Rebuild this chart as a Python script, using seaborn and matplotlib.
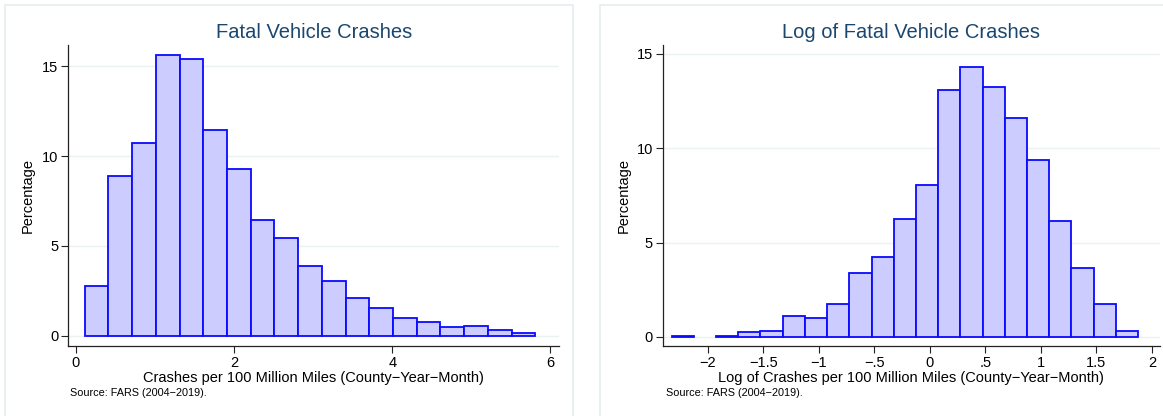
import numpy as np
import pandas as pd
import seaborn as sns
import matplotlib.pyplot as plt
from matplotlib.patches import Rectangle

# Percentage of county-year-months in each bin (raw rate)
rate_bin_start = 0.11
rate_bin_width = 0.30
rate_pct = [2.76, 8.88, 10.72, 15.64, 15.39, 11.42, 9.27, 6.43, 5.42, 3.87,
            3.04, 2.10, 1.53, 1.00, 0.77, 0.48, 0.55, 0.31, 0.15]

# Percentage in each bin (log of rate)
log_bin_start = -2.325
log_bin_width = 0.20
log_pct = [0.03, 0.00, 0.07, 0.26, 0.30, 1.09, 0.99, 1.73, 3.39, 4.22, 6.25,
           8.06, 13.08, 14.33, 13.27, 11.58, 9.37, 6.14, 3.64, 1.75, 0.30]

rate_xticks = [0, 2, 4, 6]
rate_xticklabels = ["0", "2", "4", "6"]
log_xticks = [-2, -1.5, -1, -0.5, 0, 0.5, 1, 1.5, 2]
log_xticklabels = ["\u22122", "\u22121.5", "\u22121", "\u2212.5", "0", ".5", "1", "1.5", "2"]
yticks = [0, 5, 10, 15]

titles = ["Fatal Vehicle Crashes", "Log of Fatal Vehicle Crashes"]
xlabels = ["Crashes per 100 Million Miles (County\u2212Year\u2212Month)",
           "Log of Crashes per 100 Million Miles (County\u2212Year\u2212Month)"]
ylabel = "Percentage"
source = "Source: FARS (2004\u22122019)."

sns.set_theme(style="white")
plt.rcParams["font.family"] = ["Liberation Sans", "DejaVu Sans"]

W, H = 1163, 416
fig = plt.figure(figsize=(W / 100, H / 100), dpi=100)
fig.patch.set_facecolor("white")

# light panel frames
frame_col = "#E6EEF0"
fig.add_artist(Rectangle((5 / W, -0.05), (573 - 5) / W, (411 / H) + 0.05,
                         transform=fig.transFigure, fill=False,
                         edgecolor=frame_col, linewidth=1.2))
fig.add_artist(Rectangle((600 / W, -0.05), 0.5, (411 / H) + 0.05,
                         transform=fig.transFigure, fill=False,
                         edgecolor=frame_col, linewidth=1.2))


def px_axes(x0, x1, y0, y1):
    return fig.add_axes([x0 / W, 1 - y1 / H, (x1 - x0) / W, (y1 - y0) / H])


ax1 = px_axes(68.3, 559, 45, 346)
ax2 = px_axes(662.7, 1160, 45, 346)

panels = [
    (ax1, rate_pct, rate_bin_start, rate_bin_width, (-0.097, 6.11), (-0.56, 16.17),
     rate_xticks, rate_xticklabels, 70.5, -0.068),
    (ax2, log_pct, log_bin_start, log_bin_width, (-2.405, 2.072), (-0.48, 15.47),
     log_xticks, log_xticklabels, 665.5, -0.064),
]

for i, (ax, pct, start, width, xlim, ylim, xt, xtl, src_x, ylab_x) in enumerate(panels):
    n = len(pct)
    centers = start + width * (np.arange(n) + 0.5)
    df = pd.DataFrame({"x": centers, "pct": pct})
    ax.set_axisbelow(True)
    ax.grid(axis="y", color="#EAF2F3", linewidth=1.0)
    sns.histplot(data=df, x="x", weights="pct", binwidth=width,
                 binrange=(start, start + n * width), stat="count",
                 color="#CCCCFF", edgecolor="#0A0AFF", linewidth=1.3,
                 alpha=1.0, ax=ax)
    for p in ax.patches:
        if p.get_height() == 0:
            p.set_visible(False)
    ax.set_xlim(*xlim)
    ax.set_ylim(*ylim)
    ax.set_xticks(xt)
    ax.set_xticklabels(xtl)
    ax.set_yticks(yticks)
    ax.set_yticklabels([str(v) for v in yticks])
    ax.tick_params(axis="both", which="major", direction="out", length=5,
                   width=0.8, color="#222222", labelsize=10.5, pad=2,
                   labelcolor="black", left=True, bottom=True)
    for s in ["top", "right"]:
        ax.spines[s].set_visible(False)
    for s in ["left", "bottom"]:
        ax.spines[s].set_color("#222222")
        ax.spines[s].set_linewidth(0.9)
    ax.set_title(titles[i], fontsize=14.5, color="#1A476F", pad=5)
    ax.set_xlabel(xlabels[i], fontsize=10.5, color="black", labelpad=1)
    ax.set_ylabel(ylabel, fontsize=10.5, color="black")
    ax.yaxis.set_label_coords(ylab_x, 0.5)
    fig.text(src_x / W, 1 - 393 / H, source, fontsize=7.8, ha="left",
             va="center", color="black")

fig.savefig("out.png", dpi=100, facecolor="white")
